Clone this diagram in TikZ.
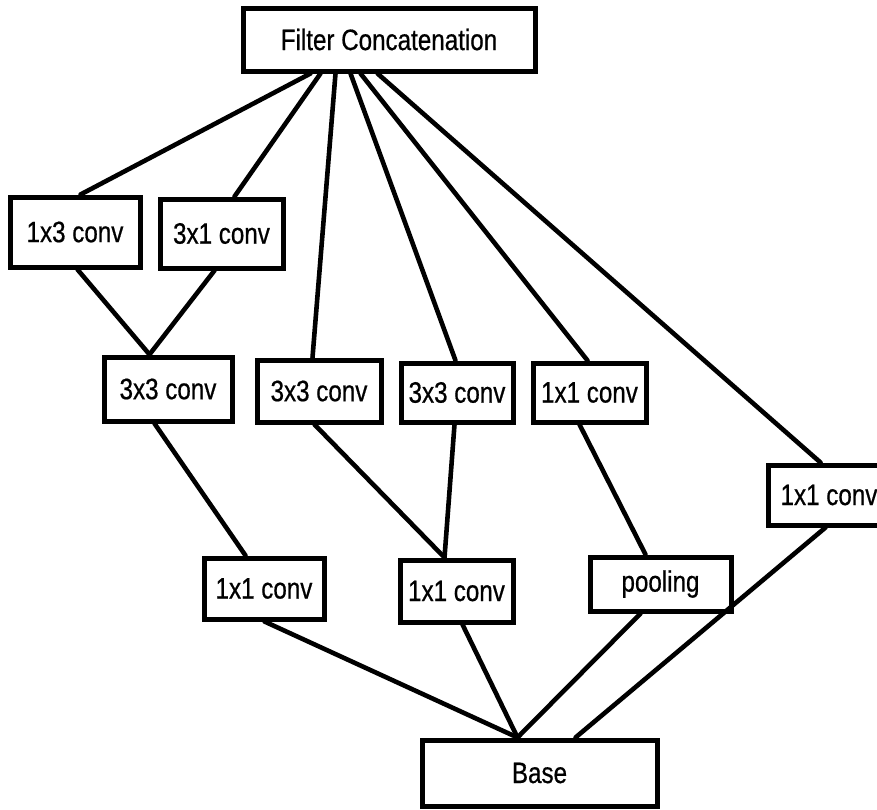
\documentclass[tikz,border=0pt]{standalone}
\usepackage{fontspec}
\setmainfont{Liberation Sans}[FakeStretch=0.82,FakeBold=0.6]
\begin{document}
\begin{tikzpicture}[x=1pt,y=-1pt,
  box/.style={draw, line width=5pt, rectangle, inner sep=0pt, fill=white,
    font=\fontsize{29.5}{34}\selectfont, text=black},
  link/.style={line width=4.6pt, line cap=round}]
\useasboundingbox (0,0) rectangle (877,809);
% nodes
\node[box, minimum width=292pt, minimum height=63pt] (fc) at (389,39.5) {\raisebox{-1.5pt}{Filter Concatenation}};
\node[box, minimum width=130pt, minimum height=70pt] (c13) at (75,232) {1x3 conv};
\node[box, minimum width=123pt, minimum height=69pt] (c31) at (221.5,233.5) {3x1 conv};
\node[box, minimum width=128pt, minimum height=64pt] (c33a) at (168,389) {3x3 conv};
\node[box, minimum width=124pt, minimum height=62pt] (c33b) at (319,391) {3x3 conv};
\node[box, minimum width=112pt, minimum height=59pt] (c33c) at (457,392.5) {3x3 conv};
\node[box, minimum width=113pt, minimum height=59pt] (c11d) at (589.5,392.5) {1x1 conv};
\node[box, minimum width=122pt, minimum height=60pt] (c11h) at (829,495) {1x1 conv};
\node[box, minimum width=120pt, minimum height=61pt] (c11e) at (264,588.5) {1x1 conv};
\node[box, minimum width=113pt, minimum height=62pt] (c11f) at (456.5,591) {1x1 conv};
\node[box, minimum width=141pt, minimum height=54pt] (pool) at (660.5,584) {pooling};
\node[box, minimum width=235pt, minimum height=66pt] (base) at (539.5,773) {Base};
% connectors to Filter Concatenation
\draw[link] ([xshift=73pt]c13.north west) -- ([xshift=70pt]fc.south west);
\draw[link] ([xshift=77pt]c31.north west) -- ([xshift=80pt]fc.south west);
\draw[link] ([xshift=58pt]c33b.north west) -- ([xshift=95pt]fc.south west);
\draw[link] ([xshift=57pt]c33c.north west) -- ([xshift=110pt]fc.south west);
\draw[link] ([xshift=57pt]c11d.north west) -- ([xshift=120pt]fc.south west);
\draw[link] ([xshift=55pt]c11h.north west) -- ([xshift=137pt]fc.south west);
% middle connectors
\draw[link] ([xshift=70pt]c13.south west) -- ([xshift=48pt]c33a.north west);
\draw[link] ([xshift=57pt]c31.south west) -- ([xshift=48pt]c33a.north west);
\draw[link] ([xshift=53pt]c33a.south west) -- ([xshift=44pt]c11e.north west);
\draw[link] ([xshift=60pt]c33b.south west) -- ([xshift=47pt]c11f.north west);
\draw[link] ([xshift=56pt]c33c.south west) -- ([xshift=47pt]c11f.north west);
\draw[link] ([xshift=49pt]c11d.south west) -- ([xshift=58pt]pool.north west);
% connectors to Base
\draw[link] ([xshift=63pt]c11e.south west) -- ([xshift=98pt]base.north west);
\draw[link] ([xshift=65pt]c11f.south west) -- ([xshift=98pt]base.north west);
\draw[link] ([xshift=53pt]pool.south west) -- ([xshift=98pt]base.north west);
\draw[link] ([xshift=60pt]c11h.south west) -- ([xshift=156pt]base.north west);
\end{tikzpicture}
\end{document}
